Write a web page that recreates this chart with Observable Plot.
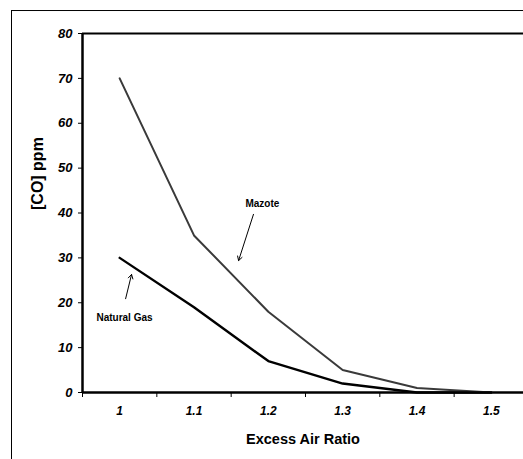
<!DOCTYPE html>
<html>
<head>
<meta charset="utf-8">
<script src="https://cdn.jsdelivr.net/npm/d3@7"></script>
<script src="https://cdn.jsdelivr.net/npm/@observablehq/plot@0.6"></script>
<style>
  html, body { margin: 0; padding: 0; background: #fff; overflow: hidden; }
  #chart svg { display: block; max-width: none; }
</style>
</head>
<body>
<div id="chart"></div>
<script>
// Data
const ratios = [1.0, 1.1, 1.2, 1.3, 1.4, 1.5];
const ratioLabels = ["1", "1.1", "1.2", "1.3", "1.4", "1.5"];
const mazote = [70, 35, 18, 5, 1, 0];
const naturalGas = [30, 19, 7, 2, 0, 0];
const yTicks = [0, 10, 20, 30, 40, 50, 60, 70, 80];

// Annotations (data coordinates)
const annotations = [
  {label: "Mazote", x: 1.192, y: 42.1, ax1: 1.180, ay1: 39.7, ax2: 1.160, ay2: 29.4},
  {label: "Natural Gas", x: 1.0065, y: 16.6, ax1: 1.008, ay1: 20.9, ax2: 1.016, ay2: 26.3}
];

const rows = [
  ...ratios.map((r, i) => ({x: r, y: mazote[i], series: "Mazote"})),
  ...ratios.map((r, i) => ({x: r, y: naturalGas[i], series: "Natural Gas"}))
];
// category boundaries (tick marks between categories; last one falls past the cropped edge)
const bounds = ratios.map(r => r - 0.05);

const font = "Liberation Sans, Arial, sans-serif";

const chart = Plot.plot({
  width: 523,
  height: 459,
  marginLeft: 82,
  marginRight: 0,
  marginTop: 33,
  marginBottom: 67,
  style: {fontFamily: font, background: "#fff"},
  x: {domain: [0.95, 1.5433]},
  y: {domain: [0, 80]},
  marks: [
    // outer chart-area border (left and top)
    Plot.ruleX([0.8545], {y1: 85.12, y2: -15, stroke: "#000", strokeWidth: 1}),
    Plot.ruleY([85.12], {x1: 0.8545, x2: 1.5433, stroke: "#000", strokeWidth: 1}),
    Plot.axisY({ticks: yTicks, tickSize: 4, tickPadding: 6, label: null,
      fontSize: 13, fontWeight: "bold", fontStyle: "italic", tickFormat: d => String(d)}),
    Plot.axisX({ticks: bounds, tickSize: 5, tickFormat: () => "", label: null}),
    Plot.axisX({ticks: ratios, tickSize: 0, tickPadding: 14, label: null,
      fontSize: 12, fontWeight: "bold", fontStyle: "italic", tickFormat: (d, i) => ratioLabels[i]}),
    // plot frame lines
    Plot.ruleY([80], {stroke: "#000", strokeWidth: 2}),
    Plot.ruleY([0], {stroke: "#000", strokeWidth: 2.5}),
    Plot.ruleX([0.95], {stroke: "#000", strokeWidth: 2.5}),
    // series
    Plot.line(rows.filter(d => d.series === "Mazote"), {x: "x", y: "y", stroke: "#3a3a3a", strokeWidth: 2}),
    Plot.line(rows.filter(d => d.series === "Natural Gas"), {x: "x", y: "y", stroke: "#000", strokeWidth: 2.4}),
    // annotations
    Plot.text(annotations, {x: "x", y: "y", text: "label", fontSize: 10, fontWeight: "bold", fill: "#000"}),
    Plot.arrow(annotations, {x1: "ax1", y1: "ay1", x2: "ax2", y2: "ay2", stroke: "#000", strokeWidth: 1, headLength: 7}),
    // titles
    Plot.text(["[CO] ppm"], {frameAnchor: "left", dx: -45, dy: -3, rotate: -90, fontSize: 16, fontWeight: "bold", fill: "#000"}),
    Plot.text(["Excess Air Ratio"], {frameAnchor: "bottom", dy: 51, fontSize: 14.5, fontWeight: "bold", fill: "#000"})
  ]
});
document.getElementById("chart").appendChild(chart);
</script>
</body>
</html>
